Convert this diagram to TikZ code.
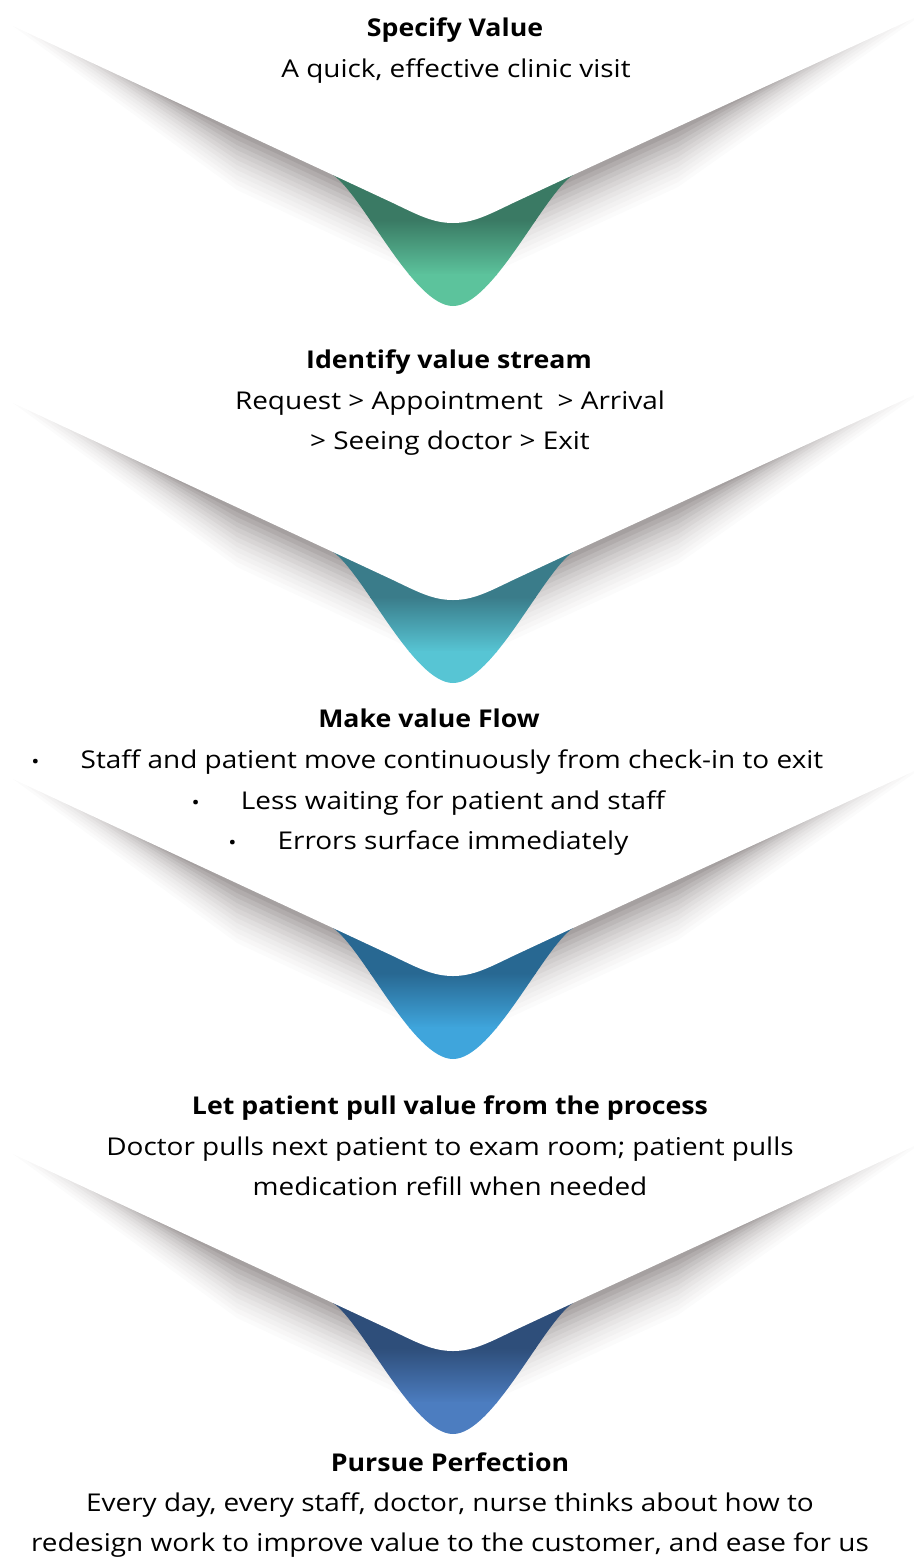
\documentclass[tikz,border=0pt]{standalone}
\usepackage{fontspec}
\setmainfont{Open Sans}[FakeStretch=1.14, BoldFeatures={FakeStretch=1.09}]
\usetikzlibrary{positioning}

\definecolor{shadowgray}{RGB}{92,82,82}
\definecolor{greendark}{RGB}{58,122,100}
\definecolor{greenlight}{RGB}{92,195,156}
\definecolor{tealdark}{RGB}{58,124,138}
\definecolor{teallight}{RGB}{87,197,212}
\definecolor{bluedark}{RGB}{40,104,146}
\definecolor{bluelight}{RGB}{63,165,220}
\definecolor{navydark}{RGB}{46,78,122}
\definecolor{navylight}{RGB}{76,125,192}

\newcommand{\chevronedge}{(-440,-149) -- (-120,0) -- (-60,28) .. controls (-35,40) and (-20,48) .. (0,48) .. controls (20,48) and (35,40) .. (60,28) -- (120,0) -- (470,-161)}
\newcommand{\chevronband}{\chevronedge -- (470,-240) -- (-440,-240) -- cycle}
\newcommand{\dripoutline}{(-120,0) .. controls (-90,20) and (-40,131) .. (0,131) .. controls (40,131) and (90,20) .. (120,0) -- cycle}

\begin{document}
\begin{tikzpicture}[x=1pt,y=-1pt,
  title/.style={font=\bfseries\fontsize{24.5}{29}\selectfont, anchor=base, inner sep=0pt},
  body/.style={font=\fontsize{24.5}{29}\selectfont, anchor=base, inner sep=0pt},
  bulletmark/.style={font=\fontsize{19}{22}\selectfont, anchor=base, inner sep=0pt}]
\useasboundingbox (0,0) rectangle (913,1558);
%\draw[step=50,gray,very thin] (0,0) grid (913,1558); %background grid
\foreach \ty/\dk/\lt in {175/greendark/greenlight, 552/tealdark/teallight, 928/bluedark/bluelight, 1303/navydark/navylight}{
  \begin{scope}[shift={(453,\ty)}]
    % shadow under the arms: light wide layers first, dark short ones last
    \foreach \k/\p in {12/2.5, 11/5, 10/8, 9/11, 8/15, 7/19, 6/24, 5/29, 4/35, 3/41, 2/48, 1/55}{
      \pgfmathsetmacro{\s}{5*\k}
      \pgfmathsetmacro{\u}{0.55+0.45*(\k-1)/11}
      \fill[shadowgray!\p!white] (-120-320*\u,-149*\u) -- (-216,-45+\s) -- (-60,28+\s)
        .. controls (-35,40+\s) and (-20,48+\s) .. (0,48+\s) .. controls (20,48+\s) and (35,40+\s) .. (60,28+\s)
        -- (225,-48+\s) -- (120+350*\u,-161*\u) -- (120+350*\u,-240) -- (-120-320*\u,-240) -- cycle;
    }
    % coloured drip
    \begin{scope}
      \clip \dripoutline;
      \fill[\dk] (-130,-5) rectangle (130,46);
      \shade[top color=\dk, bottom color=\lt] (-130,45) rectangle (130,100);
      \fill[\lt] (-130,99) rectangle (130,135);
    \end{scope}
    \fill[white] \chevronband;
  \end{scope}
}
\node[title] (specify) at (455,36) {Specify Value};
\node[body] (quick) at (456,77) {A quick, effective clinic visit};
\node[title] (identify) at (449,368) {Identify value stream};
\node[body] (request) at (450,409) {Request > Appointment\ \ > Arrival};
\node[body] (seeing) at (450,449) {> Seeing doctor > Exit};
\node[title] (flow) at (429,727) {Make value Flow};
\node[body] (staff) at (452,768) {Staff and patient move continuously from check-in to exit};
\node[body] (less) at (453,809) {Less waiting for patient and staff};
\node[body] (errors) at (453,849) {Errors surface immediately};
\foreach \line in {staff,less,errors}
  \node[bulletmark] (dot-\line) at ([xshift=-45pt]\line.base west) {•};
\node[title] (pull) at (450,1114) {Let patient pull value from the process};
\node[body] (doctor) at (450,1155) {Doctor pulls next patient to exam room; patient pulls};
\node[body] (refill) at (450,1195) {medication refill when needed};
\node[title] (pursue) at (450,1471) {Pursue Perfection};
\node[body] (everyday) at (450,1511) {Every day, every staff, doctor, nurse thinks about how to};
\node[body] (redesign) at (450,1551) {redesign work to improve value to the customer, and ease for us};
\end{tikzpicture}
\end{document}
